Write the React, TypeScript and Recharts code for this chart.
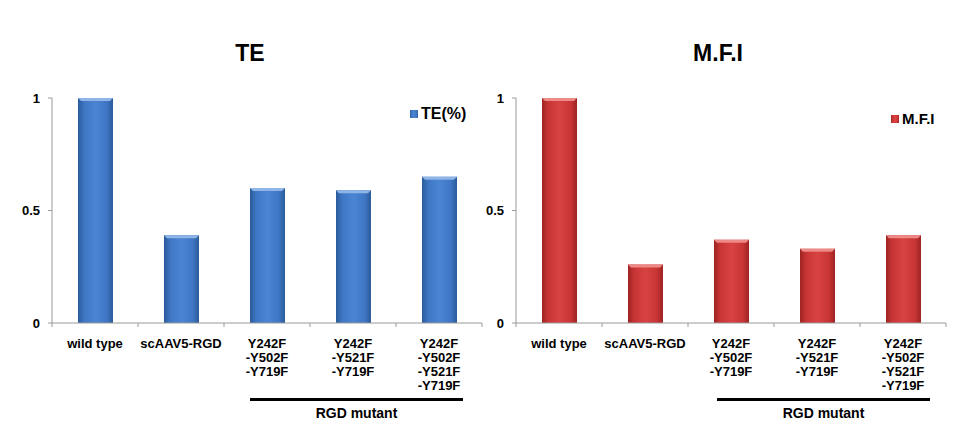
import React from "react";
import { BarChart, Bar, XAxis, YAxis, Legend } from "recharts";

const categories = [
  "wild type",
  "scAAV5-RGD",
  "Y242F\n-Y502F\n-Y719F",
  "Y242F\n-Y521F\n-Y719F",
  "Y242F\n-Y502F\n-Y521F\n-Y719F",
];
const teValues = [1, 0.39, 0.6, 0.59, 0.65];
const mfiValues = [1, 0.26, 0.37, 0.33, 0.39];
const yTicks = [0, 0.5, 1];

const teData = categories.map((c, i) => ({ name: c, te: teValues[i] }));
const mfiData = categories.map((c, i) => ({ name: c, mfi: mfiValues[i] }));

const FONT = "'Liberation Sans', Arial, sans-serif";
const AXIS = "#9a9a9a";

const CatTick = (props: any) => {
  const { x, y, payload, index, visibleTicksCount } = props;
  const half = 43;
  const lines = String(payload.value).split("\n");
  const y0 = 323;
  return (
    <g>
      <line x1={x - half} y1={y0} x2={x - half} y2={y0 + 4} stroke={AXIS} />
      {index === (visibleTicksCount ?? 5) - 1 && (
        <line x1={x + half} y1={y0} x2={x + half} y2={y0 + 4} stroke={AXIS} />
      )}
      <text
        x={x}
        y={y0 + 25}
        textAnchor="middle"
        fontFamily={FONT}
        fontWeight="bold"
        fontSize={13}
        fill="#000"
      >
        {lines.map((l, i) => (
          <tspan key={i} x={x} dy={i === 0 ? 0 : 14}>
            {l}
          </tspan>
        ))}
      </text>
    </g>
  );
};

const makeShape = (gradId: string, top: string) => (props: any) => {
  const { x, y, width, height } = props;
  if (!height || height <= 0) return <g />;
  const b = 3;
  return (
    <g>
      <rect x={x} y={y} width={width} height={height} fill={`url(#${gradId})`} />
      <polygon
        points={`${x},${y} ${x + width},${y} ${x + width - b},${y + b} ${x + b},${y + b}`}
        fill={top}
      />
    </g>
  );
};

const blueShape = makeShape("blueGrad", "#8fb5e8");
const redShape = makeShape("redGrad", "#ee8a86");

const makeLegend = (label: string, gradId: string, fontSize: number) => () => (
  <div style={{ display: "flex", alignItems: "center", fontFamily: FONT, fontWeight: "bold", fontSize, color: "#000" }}>
    <svg width={8} height={8} style={{ marginRight: 3 }}>
      <rect x={0} y={0} width={8} height={8} fill={`url(#${gradId})`} />
    </svg>
    <span>{label}</span>
  </div>
);

const Defs = () => (
  <defs>
    <linearGradient id="blueGrad" x1="0" y1="0" x2="1" y2="0">
      <stop offset="0%" stopColor="#2a5a99" />
      <stop offset="18%" stopColor="#3f77c4" />
      <stop offset="50%" stopColor="#4a85d3" />
      <stop offset="82%" stopColor="#3f77c4" />
      <stop offset="100%" stopColor="#2a5a99" />
    </linearGradient>
    <linearGradient id="redGrad" x1="0" y1="0" x2="1" y2="0">
      <stop offset="0%" stopColor="#9e2424" />
      <stop offset="18%" stopColor="#c83535" />
      <stop offset="50%" stopColor="#d84242" />
      <stop offset="82%" stopColor="#c83535" />
      <stop offset="100%" stopColor="#9e2424" />
    </linearGradient>
  </defs>
);

const titleStyle = (cx: number): React.CSSProperties => ({
  position: "absolute",
  left: cx - 100,
  width: 200,
  top: 40,
  textAlign: "center",
  fontFamily: FONT,
  fontWeight: "bold",
  fontSize: 23,
  lineHeight: "26px",
  color: "#000",
});

const Group = ({ x1, x2 }: { x1: number; x2: number }) => (
  <>
    <div style={{ position: "absolute", left: x1, top: 398, width: x2 - x1, height: 3, background: "#000" }} />
    <div
      style={{
        position: "absolute",
        left: (x1 + x2) / 2 - 100,
        width: 200,
        top: 404,
        textAlign: "center",
        fontFamily: FONT,
        fontWeight: "bold",
        fontSize: 14,
        lineHeight: "18px",
        color: "#000",
      }}
    >
      RGD mutant
    </div>
  </>
);

const yTickStyle = { fontFamily: FONT, fontWeight: "bold" as const, fontSize: 13, fill: "#000" };

export default function App() {
  return (
    <div style={{ position: "absolute", left: 0, top: 0, width: 971, height: 447, background: "#fff", overflow: "hidden" }}>
      <div style={titleStyle(250)}>TE</div>
      <div style={titleStyle(718)}>M.F.I</div>

      <div style={{ position: "absolute", left: 0, top: 0 }}>
        <BarChart width={491} height={447} data={teData} margin={{ top: 98, right: 9, bottom: 84, left: 0 }}>
          <Defs />
          <XAxis
            dataKey="name"
            height={40}
            interval={0}
            tick={<CatTick />}
            tickLine={false}
            axisLine={{ stroke: AXIS }}
          />
          <YAxis
            width={52}
            domain={[0, 1]}
            ticks={yTicks}
            tickFormatter={(v: number) => String(v)}
            tick={yTickStyle}
            tickSize={4}
            tickMargin={8}
            axisLine={{ stroke: AXIS }}
            tickLine={{ stroke: AXIS }}
          />
          <Legend
            layout="vertical"
            verticalAlign="middle"
            align="center"
            content={makeLegend("TE(%)", "blueGrad", 16)}
            wrapperStyle={{ position: "absolute", left: 410, top: 105, width: 70 }}
          />
          <Bar dataKey="te" name="TE(%)" barSize={35} shape={blueShape} isAnimationActive={false} />
        </BarChart>
      </div>

      <div style={{ position: "absolute", left: 464, top: 0 }}>
        <BarChart width={491} height={447} data={mfiData} margin={{ top: 98, right: 9, bottom: 84, left: 0 }}>
          <Defs />
          <XAxis
            dataKey="name"
            height={40}
            interval={0}
            tick={<CatTick />}
            tickLine={false}
            axisLine={{ stroke: AXIS }}
          />
          <YAxis
            width={52}
            domain={[0, 1]}
            ticks={yTicks}
            tickFormatter={(v: number) => String(v)}
            tick={yTickStyle}
            tickSize={4}
            tickMargin={8}
            axisLine={{ stroke: AXIS }}
            tickLine={{ stroke: AXIS }}
          />
          <Legend
            layout="vertical"
            verticalAlign="middle"
            align="center"
            content={makeLegend("M.F.I", "redGrad", 15)}
            wrapperStyle={{ position: "absolute", left: 427, top: 110, width: 60 }}
          />
          <Bar dataKey="mfi" name="M.F.I" barSize={35} shape={redShape} isAnimationActive={false} />
        </BarChart>
      </div>

      <Group x1={250} x2={463} />
      <Group x1={717} x2={930} />
    </div>
  );
}
